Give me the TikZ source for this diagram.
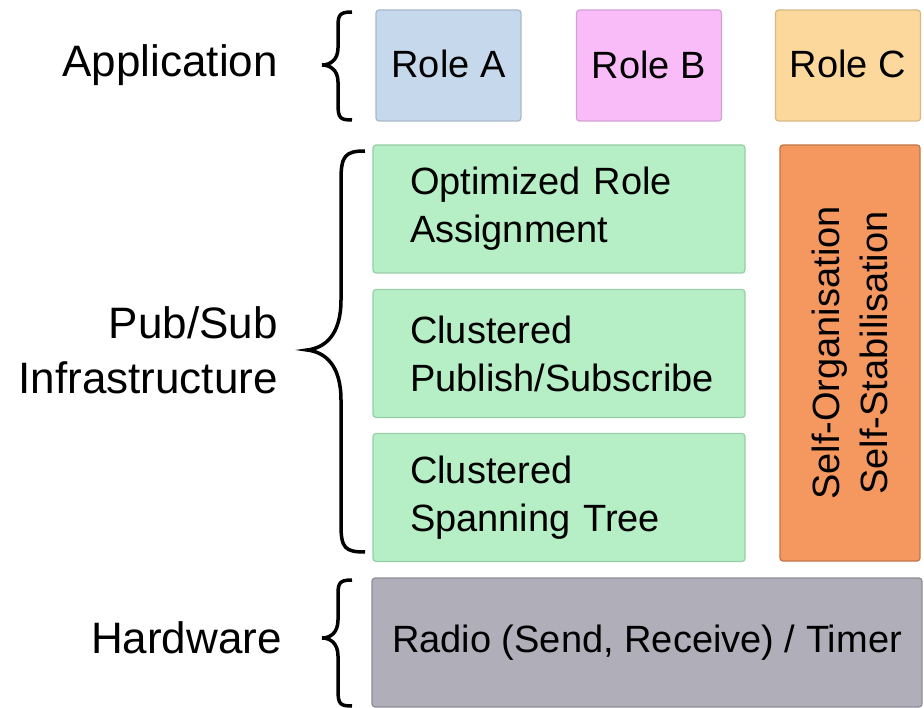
\documentclass[tikz,border=0pt]{standalone}
\usepackage{fontspec}
\setmainfont{Liberation Sans}
\definecolor{roleA}{HTML}{C6D9EC}
\definecolor{roleB}{HTML}{F9BCF9}
\definecolor{roleC}{HTML}{FDD89C}
\definecolor{greenF}{HTML}{B6EFC6}
\definecolor{greenD}{HTML}{98CDA6}
\definecolor{orangeF}{HTML}{F4985F}
\definecolor{orangeD}{HTML}{C27448}
\definecolor{grayF}{HTML}{AFAEB9}
\definecolor{grayD}{HTML}{8E8D98}
\begin{document}
\begin{tikzpicture}[x=1pt,y=-1pt,
  box/.style={draw, line width=1.2pt, rounded corners=3pt, inner sep=0pt,
    font=\fontsize{38}{48}\selectfont},
  rolebox/.style={box, minimum width=145pt, minimum height=111pt},
  greenbox/.style={box, fill=greenF, draw=greenD, minimum height=128pt,
    text width=298pt, inner xsep=37pt, align=left},
  lbl/.style={font=\fontsize{44}{55}\selectfont, align=right, inner sep=0pt},
  brace/.style={line width=3.5pt, line cap=butt}
]
\useasboundingbox (0,0) rectangle (924,708);

% Application layer
\node[rolebox, fill=roleA, draw=roleA!85!black] (ra) at (448.5,65.5) {\raisebox{4pt}{Role A}};
\node[rolebox, fill=roleB, draw=roleB!85!black] (rb) at (649,65.5) {\raisebox{1pt}{Role B}};
\node[rolebox, fill=roleC, draw=roleC!85!black] (rc) at (848,65.5) {\raisebox{4pt}{Role C}};

% Pub/Sub layer
\node[greenbox] (g1) at (559,209) {Optimized Role\\Assignment};
\node[greenbox] (g2) at (559,353.5) {Clustered\\Publish/Subscribe};
\node[greenbox] (g3) at (559,497.5) {Clustered\\Spanning Tree};
\node[box, fill=orangeF, draw=orangeD, minimum width=140pt, minimum height=416pt] (so) at (850,353) {};
\node[font=\fontsize{38}{48}\selectfont, align=center, rotate=90, inner sep=0pt] (sot) at (so.center) {Self-Organisation\\Self-Stabilisation};

% Hardware
\node[box, fill=grayF, draw=grayD, minimum width=550pt, minimum height=129pt] (hw) at (647,642.5) {Radio (Send, Receive) / Timer};

% Labels
\node[lbl, anchor=east] (la) at (278,65) {Application};
\node[lbl, anchor=east] (lp) at (278,350) {Pub/Sub\\Infrastructure};
\node[lbl, anchor=east] (lh) at (282,638) {Hardware};

% Braces
\draw[brace] (352,12) .. controls (338,12) and (338,16) .. (338,30)
  -- (338,48) .. controls (338,60) and (330,65) .. (322,65)
  .. controls (330,65) and (338,70) .. (338,82)
  -- (338,104) .. controls (338,118) and (340,120) .. (352,120);
\draw[brace] (365,151) .. controls (345,151) and (341,156) .. (341,180)
  -- (341,300) .. controls (341,335) and (325,348) .. (307,350)
  .. controls (325,352) and (341,365) .. (341,400)
  -- (341,525) .. controls (341,548) and (345,552) .. (365,552);
\draw[brace] (352,580) .. controls (338,580) and (338,584) .. (338,598)
  -- (338,620) .. controls (338,633) and (330,638) .. (322,638)
  .. controls (330,638) and (338,643) .. (338,656)
  -- (338,690) .. controls (338,704) and (340,706) .. (352,706);
\end{tikzpicture}
\end{document}
